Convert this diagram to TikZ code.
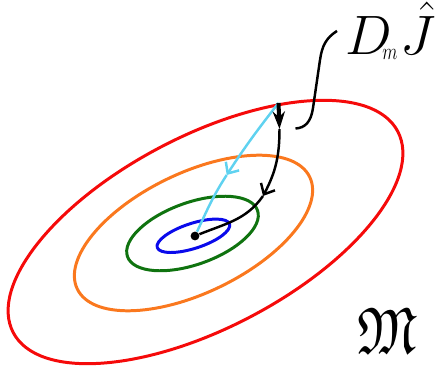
\documentclass[tikz,border=0pt]{standalone}
\usepackage{amsmath, amssymb}
\usetikzlibrary{arrows.meta}

\definecolor{lvlred}{RGB}{245,10,10}
\definecolor{lvlorange}{RGB}{250,120,30}
\definecolor{lvlgreen}{RGB}{15,115,15}
\definecolor{lvlblue}{RGB}{10,10,235}
\definecolor{gradcyan}{RGB}{95,210,240}

\begin{document}
\begin{tikzpicture}[x=0.02cm, y=0.02cm,
  level/.style={line width=1.7pt},
  flow/.style={line width=1.4pt, black},
  gradpath/.style={line width=1.4pt, gradcyan},
  barb/.style={-{Straight Barb[length=5pt,width=9pt]}}]
  \useasboundingbox (0,0) rectangle (441,376);
  % level sets
  \draw[level, lvlred, rotate around={27.6:(205.5,144)}] (205.5,144) ellipse [x radius=217, y radius=96];
  \draw[level, lvlorange, rotate around={25.7:(193.5,143)}] (193.5,143) ellipse [x radius=129, y radius=60];
  \draw[level, lvlgreen, rotate around={19.6:(192.5,142.5)}] (192.5,142.5) ellipse [x radius=69, y radius=31];
  \draw[level, lvlblue, rotate around={18:(193.4,140.2)}] (193.4,140.2) ellipse [x radius=38, y radius=12.5];
  % points along the paths
  \coordinate (s) at (278.5,273);
  \coordinate (a) at (279.5,247);
  \coordinate (b) at (263,180);
  \coordinate (c) at (226.7,201);
  \node[circle, fill, inner sep=0pt, minimum size=5pt] (e) at (195,140) {};
  % plain gradient steps
  \draw[gradpath, barb] (s) to[out=232,in=57] (c);
  \draw[gradpath] (c) to[out=237,in=65] (e);
  % flow along D_m J
  \draw[flow, line width=2.3pt, -{Stealth[length=10pt,width=7pt]}] (s) -- (a);
  \draw[flow, barb] (a) to[out=-90,in=62] (b);
  \draw[flow] (b) to[out=235,in=22] (e);
  % label and its pin
  \node[anchor=base west, inner ysep=0pt, inner xsep=3.4pt, font=\Huge, scale=1.27, transform shape] (lbl) at (337,321) {$D\mkern-3mu\raisebox{-2pt}{\scalebox{0.32}[0.42]{$m$}}\mkern1mu\hat{J}$};
  \coordinate (tip) at (295.5,247.5);
  \draw[flow] (lbl.west) .. controls (326,338) and (322,330) .. (320,316) -- (313,268) .. controls (311,254) and (305,248) .. (tip);
  % the manifold
  \node[font=\Huge, xscale=1.3, yscale=1.5, transform shape, inner sep=0pt] (mfd) at (387,45) {$\mathfrak{M}$};
\end{tikzpicture}
\end{document}
